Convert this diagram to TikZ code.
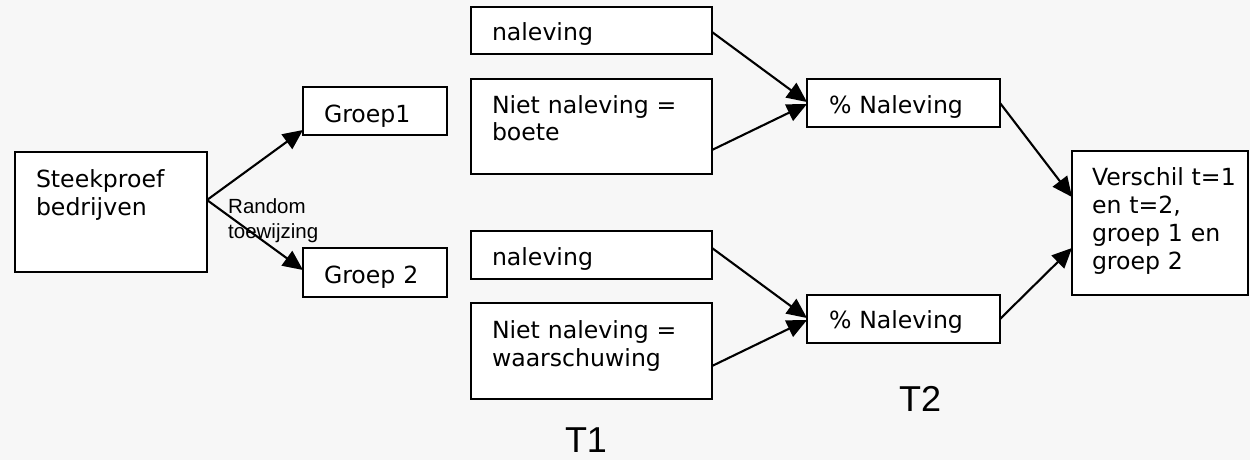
\documentclass[tikz,border=0pt]{standalone}
\usepackage{fontspec}
\setmainfont{DejaVu Sans}
\newfontfamily\arialfont{Liberation Sans}
\usetikzlibrary{arrows.meta}
\definecolor{bgcol}{RGB}{247,247,247}
\begin{document}
\begin{tikzpicture}[x=1pt,y=-1pt,
  box/.style={draw=black, fill=white, line width=2.1pt, anchor=north west,
    align=left, inner ysep=0pt, outer sep=0pt,
    font=\fontsize{23.6}{28}\selectfont},
  arr/.style={line width=2.1pt, -{Triangle[length=20pt,width=18pt]}},
  rndlab/.style={inner sep=0pt, align=left, text width=110pt,
    font=\arialfont\fontsize{20.5}{25}\selectfont},
  tlab/.style={inner sep=0pt, font=\arialfont\fontsize{36}{43}\selectfont},
]
\useasboundingbox (0,0) rectangle (1250,460);
\fill[bgcol] (0,0) rectangle (1250,460);

\node[box, inner xsep=21pt, text width=150pt, text height=35pt, text depth=85pt] (steek) at (15,152) {Steekproef\\bedrijven};
\node[box, inner xsep=21pt, text width=102pt, text height=35pt, text depth=13pt] (g1) at (303,87) {Groep1};
\node[box, inner xsep=21pt, text width=102pt, text height=35pt, text depth=14pt] (g2) at (303,248) {Groep 2};

\node[box, inner xsep=21pt, text width=199pt, text height=34pt, text depth=13pt] (n1) at (471,7) {naleving};
\node[box, inner xsep=21pt, text width=199pt, text height=34pt, text depth=61pt] (nb) at (471,79) {Niet naleving =\\boete};
\node[box, inner xsep=21pt, text width=199pt, text height=34pt, text depth=14pt] (n2) at (471,231) {naleving};
\node[box, inner xsep=21pt, text width=199pt, text height=35pt, text depth=61pt] (nw) at (471,303) {Niet naleving =\\waarschuwing};

\node[box, inner xsep=22pt, text width=149pt, text height=34pt, text depth=14pt] (p1) at (807,79) {\% Naleving};
\node[box, inner xsep=22pt, text width=149pt, text height=33pt, text depth=15pt] (p2) at (807,295) {\% Naleving};

\node[box, inner xsep=20pt, text width=136pt, text height=34pt, text depth=110pt] (v) at (1072,151) {Verschil~t=1\\en t=2,\\groep 1 en\\groep 2};

\node[rndlab, anchor=base west] (rnd) at (228,213) {Random\\toewijzing};
\node[tlab, anchor=base] (t1) at (586,452) {T1};
\node[tlab, anchor=base] (t2) at (920,411) {T2};

\draw[arr] ([yshift=12pt]steek.east) -- ([yshift=-19pt]g1.west);
\draw[arr] ([yshift=12pt]steek.east) -- ([yshift=2.5pt]g2.west);
\draw[arr] ([yshift=-1.5pt]n1.east) -- ([yshift=1pt]p1.west);
\draw[arr] ([yshift=-23.5pt]nb.east) -- ([yshift=-1pt]p1.west);
\draw[arr] ([yshift=7pt]n2.east) -- ([yshift=1pt]p2.west);
\draw[arr] ([yshift=-15pt]nw.east) -- ([yshift=-1pt]p2.west);
\draw[arr] (p1.east) -- ([yshift=26pt]v.west);
\draw[arr] (p2.east) -- ([yshift=-25pt]v.west);
\end{tikzpicture}
\end{document}
